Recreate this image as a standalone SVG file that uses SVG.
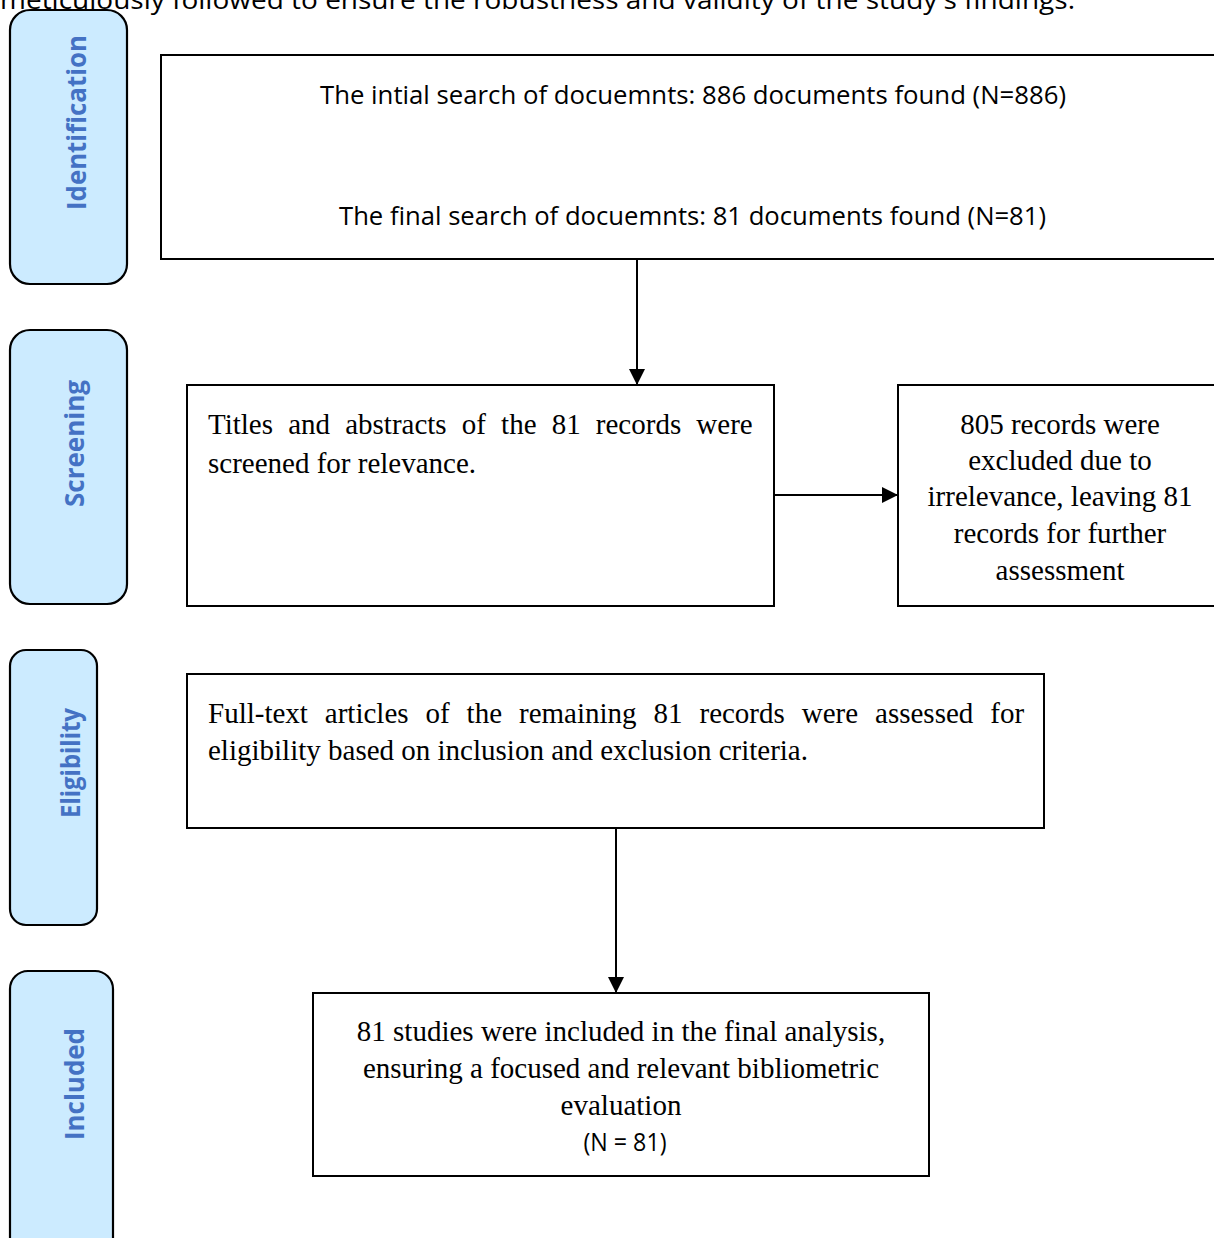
<svg xmlns="http://www.w3.org/2000/svg" width="1214" height="1238" viewBox="0 0 1214 1238">
<style>
.pill{fill:#CCEBFF;stroke:#000;stroke-width:2.2}
.box{fill:#fff;stroke:#000;stroke-width:2}
.lbl{font-family:"Open Sans","Liberation Sans",sans-serif;font-weight:bold;font-size:27px;fill:#4472C4;text-anchor:middle}
.cal{font-family:"Open Sans","Liberation Sans",sans-serif;font-size:26px;fill:#000}
.tnr{font-family:"Liberation Serif","Times New Roman",serif;font-size:29px;fill:#000}
.mid{text-anchor:middle}
.conn{stroke:#000;stroke-width:2;fill:none}
</style>
<defs>
<marker id="ah" viewBox="0 0 10 10" refX="10" refY="5" markerWidth="16" markerHeight="16" markerUnits="userSpaceOnUse" orient="auto">
<path d="M0,0 L10,5 L0,10 Z" fill="#000"/>
</marker>
</defs>
<rect width="1214" height="1238" fill="#fff"/>
<text class="cal" x="0" y="9" textLength="1075" lengthAdjust="spacingAndGlyphs">meticulously followed to ensure the robustness and validity of the study's findings.</text>

<g id="stage-identification">
<rect class="pill" x="10" y="10" width="117" height="274" rx="20"/>
<text class="lbl" transform="translate(86,122.5) rotate(-90)" textLength="175" lengthAdjust="spacingAndGlyphs">Identification</text>
</g>
<g id="stage-screening">
<rect class="pill" x="10" y="330" width="117" height="274" rx="20"/>
<text class="lbl" transform="translate(84,443.5) rotate(-90)" textLength="127" lengthAdjust="spacingAndGlyphs">Screening</text>
</g>
<g id="stage-eligibility">
<rect class="pill" x="10" y="650" width="87" height="275" rx="16"/>
<text class="lbl" transform="translate(80,763) rotate(-90)" textLength="110" lengthAdjust="spacingAndGlyphs">Eligibility</text>
</g>
<g id="stage-included">
<rect class="pill" x="10" y="971" width="103" height="300" rx="18"/>
<text class="lbl" transform="translate(84,1084) rotate(-90)" textLength="112" lengthAdjust="spacingAndGlyphs">Included</text>
</g>

<g id="search">
<rect class="box" x="161" y="55" width="1070" height="204"/>
<text class="cal mid" x="693" y="104" textLength="746" lengthAdjust="spacingAndGlyphs">The intial search of docuemnts: 886 documents found (N=886)</text>
<text class="cal mid" x="692.5" y="225" textLength="707" lengthAdjust="spacingAndGlyphs">The final search of docuemnts: 81 documents found (N=81)</text>
</g>
<g id="screening">
<rect class="box" x="187" y="385" width="587" height="221"/>
<text class="tnr" x="208" y="434" word-spacing="7.9">Titles and abstracts of the 81 records were</text>
<text class="tnr" x="208" y="473">screened for relevance.</text>
</g>
<g id="excluded">
<rect class="box" x="898" y="385" width="330" height="221"/>
<text class="tnr mid" x="1060" y="434">805 records were</text>
<text class="tnr mid" x="1060" y="470">excluded due to</text>
<text class="tnr mid" x="1060" y="506">irrelevance, leaving 81</text>
<text class="tnr mid" x="1060" y="543">records for further</text>
<text class="tnr mid" x="1060" y="580">assessment</text>
</g>
<g id="eligibility">
<rect class="box" x="187" y="674" width="857" height="154"/>
<text class="tnr" x="208" y="723" word-spacing="9.7">Full-text articles of the remaining 81 records were assessed for</text>
<text class="tnr" x="208" y="760">eligibility based on inclusion and exclusion criteria.</text>
</g>
<g id="included">
<rect class="box" x="313" y="993" width="616" height="183"/>
<text class="tnr mid" x="621" y="1041">81 studies were included in the final analysis,</text>
<text class="tnr mid" x="621" y="1078">ensuring a focused and relevant bibliometric</text>
<text class="tnr mid" x="621" y="1115">evaluation</text>
<text class="cal mid" x="625" y="1151" textLength="83" lengthAdjust="spacingAndGlyphs">(N = 81)</text>
</g>

<g id="connectors">
<line class="conn" x1="637" y1="259" x2="637" y2="385" marker-end="url(#ah)"/>
<line class="conn" x1="774" y1="495" x2="898" y2="495" marker-end="url(#ah)"/>
<line class="conn" x1="616" y1="828" x2="616" y2="993" marker-end="url(#ah)"/>
</g>
</svg>
